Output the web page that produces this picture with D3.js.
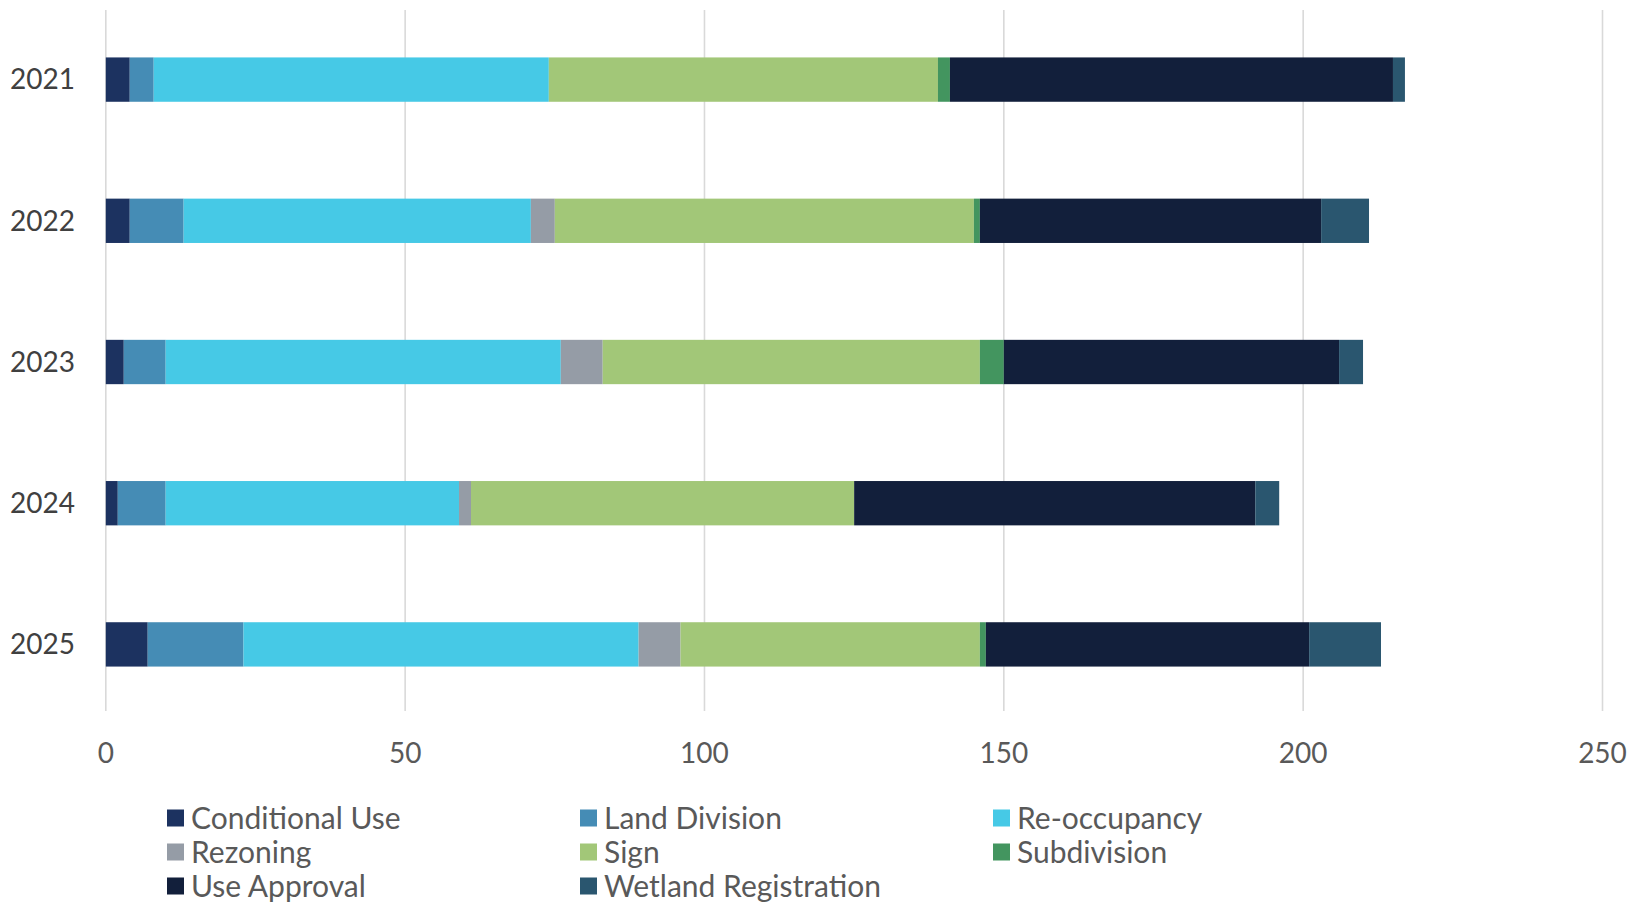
<!DOCTYPE html>
<html>
<head>
<meta charset="utf-8">
<script src="https://cdn.jsdelivr.net/npm/d3@7"></script>
<style>
  body { margin: 0; background: #fff; }
  svg { display: block; font-family: Lato, "Noto Sans", sans-serif; }
</style>
</head>
<body>
<div id="chart"></div>
<script>
const years = ["2021", "2022", "2023", "2024", "2025"];
const categories = ["Conditional Use", "Land Division", "Re-occupancy", "Rezoning",
                    "Sign", "Subdivision", "Use Approval", "Wetland Registration"];
const colors = ["#1c3260", "#458cb5", "#46c9e6", "#959ca6",
                "#a2c778", "#43955f", "#121f3b", "#2a566f"];

const conditionalUse = [4, 4, 3, 2, 7];
const landDivision   = [4, 9, 7, 8, 16];
const reOccupancy    = [66, 58, 66, 49, 66];
const rezoning       = [0, 4, 7, 2, 7];
const sign           = [65, 70, 63, 64, 50];
const subdivision    = [2, 1, 4, 0, 1];
const useApproval    = [74, 57, 56, 67, 54];
const wetland        = [2, 8, 4, 4, 12];
const xTicks = [0, 50, 100, 150, 200, 250];

const series = [conditionalUse, landDivision, reOccupancy, rezoning, sign, subdivision, useApproval, wetland];

// table for d3.stack
const rows = years.map((y, i) => {
    const r = {year: y};
    categories.forEach((c, k) => { r[c] = series[k][i]; });
    return r;
});

const W = 1642, H = 905;
const svg = d3.select("#chart").append("svg").attr("width", W).attr("height", H);

const x = d3.scaleLinear().domain([0, 250]).range([105.8, 1602.5]);
const y = d3.scaleBand().domain(years).range([9, 715]).paddingInner(0.686).paddingOuter(0.343);

// gridlines
svg.append("g")
    .selectAll("line")
    .data(xTicks)
    .join("line")
    .attr("x1", d => x(d)).attr("x2", d => x(d))
    .attr("y1", 10).attr("y2", 711)
    .attr("stroke", "#d9d9d9")
    .attr("stroke-width", 1.6);

const stacked = d3.stack().keys(categories)(rows);
const color = d3.scaleOrdinal().domain(categories).range(colors);

svg.append("g")
    .selectAll("g")
    .data(stacked)
    .join("g")
    .attr("fill", d => color(d.key))
    .selectAll("rect")
    .data(d => d)
    .join("rect")
    .attr("x", d => x(d[0]))
    .attr("width", d => x(d[1]) - x(d[0]))
    .attr("y", d => y(d.data.year))
    .attr("height", y.bandwidth());

// y labels
svg.append("g")
    .selectAll("text")
    .data(years)
    .join("text")
    .attr("x", 75)
    .attr("y", d => y(d) + y.bandwidth() / 2)
    .attr("dy", "0.35em")
    .attr("text-anchor", "end")
    .attr("fill", "#404040")
    .attr("font-size", 28)
    .text(d => d);

// x tick labels
svg.append("g")
    .selectAll("text")
    .data(xTicks)
    .join("text")
    .attr("x", d => x(d))
    .attr("y", 753)
    .attr("dy", "0.35em")
    .attr("text-anchor", "middle")
    .attr("fill", "#595959")
    .attr("font-size", 28)
    .text(d => d);

// legend
const legCols = [167, 580, 993];
const legRows = [818, 852, 886];
const leg = svg.append("g")
    .selectAll("g")
    .data(categories)
    .join("g")
    .attr("transform", (d, i) => `translate(${legCols[i % 3]},${legRows[Math.floor(i / 3)]})`);

leg.append("rect")
    .attr("x", 0).attr("y", -8.5)
    .attr("width", 17).attr("height", 17)
    .attr("fill", d => color(d));

leg.append("text")
    .attr("x", 24)
    .attr("dy", "0.35em")
    .attr("fill", "#595959")
    .attr("font-size", 30)
    .text(d => d);
</script>
</body>
</html>
